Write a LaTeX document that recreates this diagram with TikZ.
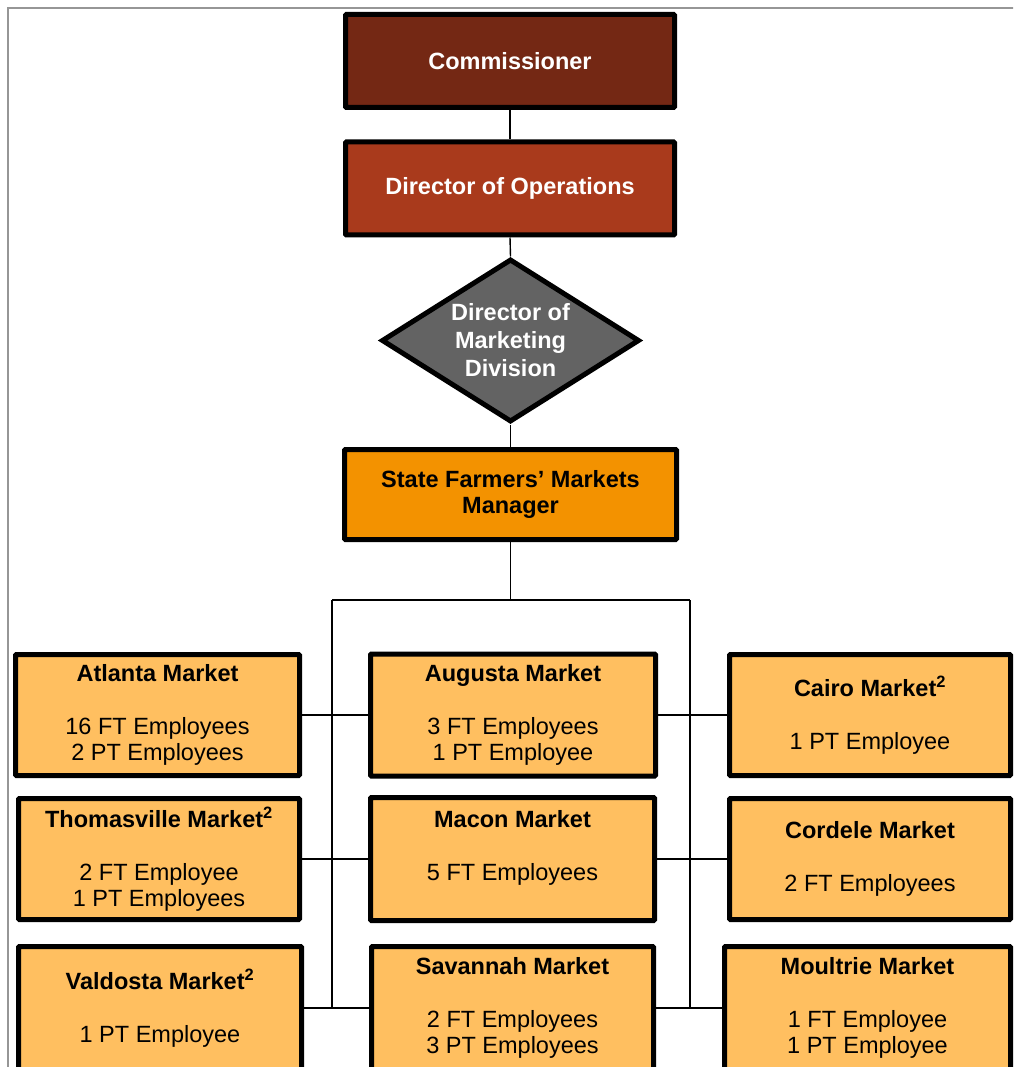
\documentclass[tikz,border=0pt]{standalone}
\usepackage{fontspec}
\setmainfont{Liberation Sans}
\usetikzlibrary{shapes.geometric}
\definecolor{comred}{RGB}{116,40,20}
\definecolor{dopred}{RGB}{169,58,28}
\definecolor{diagray}{RGB}{99,99,99}
\definecolor{mgrorange}{RGB}{243,146,0}
\definecolor{mktorange}{RGB}{255,191,96}
\definecolor{framegray}{RGB}{150,150,150}
\tikzset{
  boxbase/.style={draw=black, line width=5pt, rounded corners=1pt, align=center, inner sep=0pt,
    font=\fontsize{23.5}{26.5}\selectfont},
  topbox/.style={boxbase, fill=#1, text=white, font=\fontsize{23.5}{26.5}\selectfont\bfseries,
    minimum width=329pt, minimum height=93pt},
  mgrbox/.style={boxbase, fill=mgrorange, text=black, font=\fontsize{23.5}{26.5}\selectfont\bfseries,
    minimum width=332pt, minimum height=90pt},
  mktbox/.style={boxbase, fill=mktorange, text=black},
  divbox/.style={draw=black, line width=5pt, shape=diamond, shape aspect=1.58, fill=diagray, text=white, align=center,
    inner sep=0pt, font=\fontsize{23.5}{28}\selectfont\bfseries, minimum width=258pt, minimum height=163pt},
  link/.style={draw=black, line width=1.4pt},
}
\newcommand{\mkttitle}[1]{{\bfseries #1}}
\begin{document}
\begin{tikzpicture}[x=1pt,y=-1pt]
\path[use as bounding box] (0,0) rectangle (1013,1067);
\clip (0,0) rectangle (1013,1067);
\fill[white] (0,0) rectangle (1013,1067);
% frame
\draw[framegray, line width=1.5pt] (8,1070) -- (8,8) -- (1020,8);

% top chain
\node[topbox=comred] (com) at (510,61) {Commissioner};
\node[topbox=dopred] (dop) at (510,188.5) {Director of Operations};
\node[divbox] (div) at (510.5,340.5) {Director of\\Marketing\\Division};
\node[mgrbox] (mgr) at (510.5,494.5) {State Farmers’ Markets\\Manager};

% markets
\node[mktbox, minimum width=284pt, minimum height=121pt] (atl) at (157.5,715)
  {\mkttitle{Atlanta Market}\\[26.5pt]16 FT Employees\\2 PT Employees};
\node[mktbox, minimum width=285pt, minimum height=122pt] (aug) at (513,715)
  {\mkttitle{Augusta Market}\\[26.5pt]3 FT Employees\\1 PT Employee};
\node[mktbox, minimum width=281pt, minimum height=121pt] (cai) at (870,715)
  {\mkttitle{Cairo Market\textsuperscript{2}}\\[26.5pt]1 PT Employee};

\node[mktbox, minimum width=281pt, minimum height=121pt] (tho) at (159,859)
  {\mkttitle{Thomasville Market\textsuperscript{2}}\\[26.5pt]2 FT Employee\\1 PT Employees};
\node[mktbox, minimum width=284pt, minimum height=123pt] (mac) at (512.5,859)
  {\mkttitle{Macon Market}\\[26.5pt]5 FT Employees\\\mbox{}};
\node[mktbox, minimum width=281pt, minimum height=121pt] (cor) at (870,859)
  {\mkttitle{Cordele Market}\\[26.5pt]2 FT Employees};

\node[mktbox, minimum width=283pt, minimum height=123pt] (val) at (160,1008)
  {\mkttitle{Valdosta Market\textsuperscript{2}}\\[26.5pt]1 PT Employee};
\node[mktbox, minimum width=282pt, minimum height=123pt] (sav) at (512.5,1008)
  {\mkttitle{Savannah Market}\\[26.5pt]2 FT Employees\\3 PT Employees};
\node[mktbox, minimum width=286pt, minimum height=123pt] (mou) at (867.5,1008)
  {\mkttitle{Moultrie Market}\\[26.5pt]1 FT Employee\\1 PT Employee};

% tree coordinates
\coordinate (hub) at (510.5,600);
\coordinate (lt) at (332,600);
\coordinate (rt) at (690,600);
\coordinate (lb) at (332,1008);
\coordinate (rb) at (690,1008);

% connectors
\path[link] (com.south) -- (dop.north);
\path[link] (dop.south) -- (div.north);
\path[link] (div.south) -- (mgr.north);
\path[link] (mgr.south) -- (hub);
\path[link] (lt) -- (rt);
\path[link] (lt) -- (lb);
\path[link] (rt) -- (rb);
\path[link] (atl.east) -- (aug.west);
\path[link] (aug.east) -- (cai.west);
\path[link] (tho.east) -- (mac.west);
\path[link] (mac.east) -- (cor.west);
\path[link] (val.east) -- (sav.west);
\path[link] (sav.east) -- (mou.west);
\end{tikzpicture}
\end{document}
